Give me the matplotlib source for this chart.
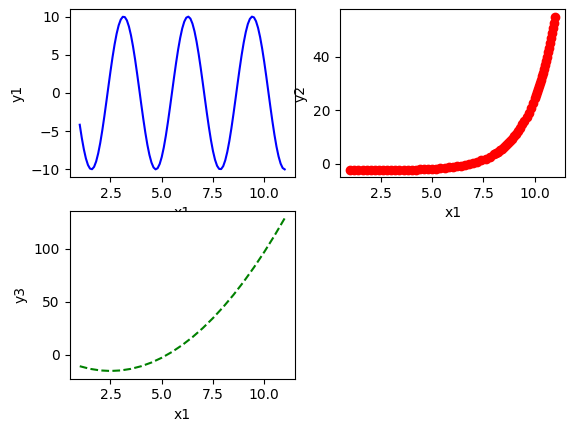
import numpy as np
import matplotlib
matplotlib.use("Agg")
import matplotlib.pyplot as plt

# x positions of the sampled curve (top-left)
x1 = np.linspace(1.0, 11.0, 101)
y1 = [-4.16, -5.89, -7.37, -8.57, -9.42, -9.90, -9.98, -9.67, -8.97, -7.91, -6.54,
      -4.90, -3.07, -1.12, 0.87, 2.84, 4.69, 6.35, 7.76, 8.86, 9.60, 9.97,
      9.93, 9.50, 8.69, 7.54, 6.08, 4.39, 2.51, 0.54, -1.46, -3.39, -5.19, -6.79,
      -8.11, -9.11, -9.75, -10.00, -9.85, -9.30, -8.39, -7.14, -5.61, -3.85, -1.94,
      0.04, 2.03, 3.93, 5.68, 7.20, 8.44, 9.34, 9.86,
      9.99, 9.73, 9.07, 8.06, 6.72, 5.12, 3.31, 1.37, -0.63, -2.60, -4.46, -6.15,
      -7.60, -8.74, -9.53, -9.94, -9.96, -9.58, -8.81, -7.70, -6.28, -4.61, -2.75,
      -0.79, 1.21, 3.16, 4.98, 6.60, 7.96, 9.01, 9.69, 9.99,
      9.89, 9.39, 8.52, 7.31, 5.81, 4.08, 2.19, 0.20, -1.79, -3.71, -5.48, -7.03,
      -8.30, -9.24, -9.82, -10.00]

# scatter (top-right)
x2 = np.concatenate([np.linspace(1.0, 8.0, 36), np.linspace(8.1, 10.0, 20),
                     np.linspace(10.05, 11.0, 20)])
y2 = [-2.47, -2.46, -2.46, -2.45, -2.44, -2.43, -2.42, -2.41, -2.39, -2.38,
      -2.36, -2.33, -2.31, -2.28, -2.24, -2.20, -2.15, -2.09, -2.03, -1.95,
      -1.86, -1.76, -1.64, -1.50, -1.34, -1.15, -0.93, -0.68, -0.38, -0.04,
      0.36, 0.82, 1.36, 1.98, 2.71, 3.55,
      4.02, 4.53, 5.08, 5.67, 6.31, 6.99, 7.73, 8.53, 9.39, 10.31,
      11.31, 12.38, 13.54, 14.79, 16.14, 17.59, 19.16, 20.84, 22.66, 24.62,
      25.66, 26.73, 27.85, 29.01, 30.21, 31.46, 32.76, 34.11, 35.51, 36.96,
      38.47, 40.03, 41.66, 43.34, 45.10, 46.92, 48.80, 50.76, 52.80, 54.91]

# dashed curve (bottom-left)
x3 = np.linspace(1.0, 11.0, 21)
y3 = [-11.0, -13.5, -15.0, -15.5, -15.0, -13.5, -11.0, -7.5, -3.0, 2.5, 9.0,
      16.5, 25.0, 34.5, 45.0, 56.5, 69.0, 82.5, 97.0, 112.5, 129.0]

fig = plt.figure(figsize=(5.75, 4.32), dpi=100)
W, H = 575.0, 432.0
aw, ah = 225.45, 168.0
ax1 = fig.add_axes([69.5 / W, 255.0 / H, aw / W, ah / H])
ax2 = fig.add_axes([340.0 / W, 255.0 / H, aw / W, ah / H])
ax3 = fig.add_axes([69.5 / W, 53.4 / H, aw / W, ah / H])

ax1.plot(x1, y1, 'b-')
ax1.set_xlabel('x1')
ax1.set_ylabel('y1')

ax2.plot(x2, y2, 'ro')
ax2.set_ylim(-4.9, 57.9)
ax2.set_xlabel('x1')
ax2.set_ylabel('y2')

ax3.plot(x3, y3, 'g--')
ax3.set_xlabel('x1')
ax3.set_ylabel('y3')

fig.savefig('out.png', dpi=100)
